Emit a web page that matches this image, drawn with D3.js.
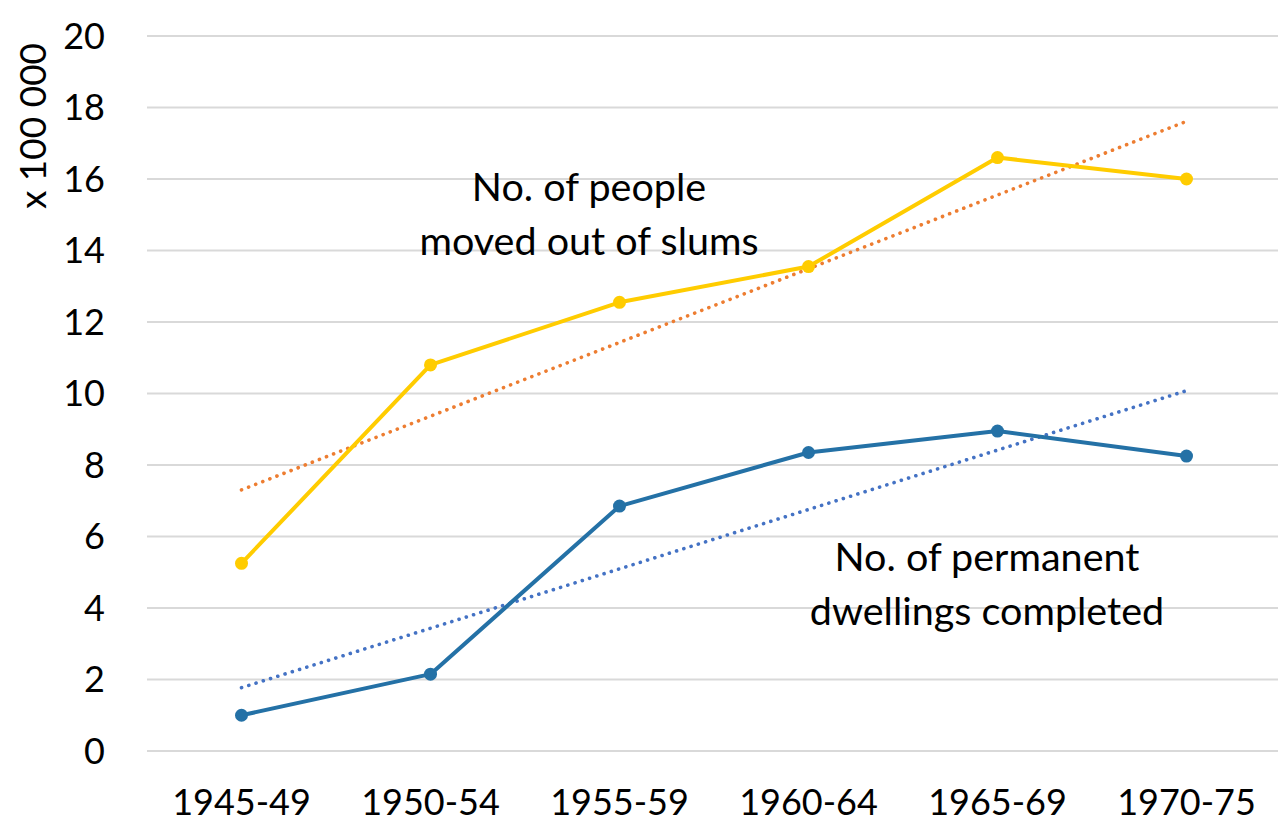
<!DOCTYPE html>
<html>
<head>
<meta charset="utf-8">
<script src="https://cdn.jsdelivr.net/npm/d3@7"></script>
<style>
  body { margin: 0; background: #fff; }
  svg text { font-family: Lato, "Open Sans", sans-serif; fill: #000; }
</style>
</head>
<body>
<svg id="chart" width="1278" height="823"></svg>
<script>
var periods = ["1945-49", "1950-54", "1955-59", "1960-64", "1965-69", "1970-75"];
var peopleMoved = [5.25, 10.8, 12.55, 13.55, 16.6, 16.0];
var dwellings = [1.0, 2.15, 6.85, 8.35, 8.95, 8.25];
var yTicks = [0, 2, 4, 6, 8, 10, 12, 14, 16, 18, 20];

var plotLeft = 147, plotRight = 1281, plotTop = 36, plotBottom = 751;

var svg = d3.select("#chart");

var x = d3.scaleBand().domain(periods).range([plotLeft, plotRight]);
var y = d3.scaleLinear().domain([0, 20]).range([plotBottom, plotTop]);
function cx(d) { return x(d) + x.bandwidth() / 2; }

// gridlines
svg.append("g").selectAll("line").data(yTicks).join("line")
  .attr("x1", plotLeft).attr("x2", plotRight)
  .attr("y1", d => y(d)).attr("y2", d => y(d))
  .attr("stroke", "#d9d9d9").attr("stroke-width", 2);

// y tick labels
svg.append("g").selectAll("text").data(yTicks).join("text")
  .attr("x", 105).attr("y", d => y(d))
  .attr("dy", "0.36em")
  .attr("text-anchor", "end")
  .style("font-size", "36px")
  .text(d => d);

// x labels
svg.append("g").selectAll("text").data(periods).join("text")
  .attr("x", d => cx(d)).attr("y", 815)
  .attr("text-anchor", "middle")
  .style("font-size", "36px")
  .text(d => d);

// y axis title
svg.append("text")
  .attr("transform", "translate(46,126) rotate(-90)")
  .attr("text-anchor", "middle")
  .style("font-size", "37px")
  .text("x 100 000");

// linear trend (least squares over category index)
function trend(vals) {
  var n = vals.length, mx = (n - 1) / 2, my = d3.mean(vals);
  var num = 0, den = 0;
  vals.forEach(function (v, i) { num += (i - mx) * (v - my); den += (i - mx) * (i - mx); });
  var b = num / den, a = my - b * mx;
  return [{ i: 0, v: a }, { i: n - 1, v: a + b * (n - 1) }];
}

var trendLine = d3.line()
  .x(d => cx(periods[d.i]))
  .y(d => y(d.v));

svg.append("path")
  .attr("d", trendLine(trend(peopleMoved)))
  .attr("fill", "none").attr("stroke", "#ed7d31")
  .attr("stroke-width", 3.6).attr("stroke-dasharray", "0.1 7.5")
  .attr("stroke-linecap", "round");

svg.append("path")
  .attr("d", trendLine(trend(dwellings)))
  .attr("fill", "none").attr("stroke", "#4472c4")
  .attr("stroke-width", 3.6).attr("stroke-dasharray", "0.1 7.5")
  .attr("stroke-linecap", "round");

var line = d3.line()
  .x((d, i) => cx(periods[i]))
  .y(d => y(d));

function drawSeries(vals, color) {
  svg.append("path")
    .attr("d", line(vals))
    .attr("fill", "none").attr("stroke", color)
    .attr("stroke-width", 4).attr("stroke-linejoin", "round");
  svg.append("g").selectAll("circle").data(vals).join("circle")
    .attr("cx", (d, i) => cx(periods[i]))
    .attr("cy", d => y(d))
    .attr("r", 6.5)
    .attr("fill", color);
}

drawSeries(peopleMoved, "#ffcc00");
drawSeries(dwellings, "#2471a6");

// annotations
function note(lines, xc, y0) {
  var t = svg.append("text").attr("text-anchor", "middle").style("font-size", "39.5px");
  lines.forEach(function (s, i) {
    t.append("tspan").attr("x", xc).attr("y", y0 + i * 54).text(s);
  });
}
note(["No. of people", "moved out of slums"], 589, 201);
note(["No. of permanent", "dwellings completed"], 987, 571);
</script>
</body>
</html>
